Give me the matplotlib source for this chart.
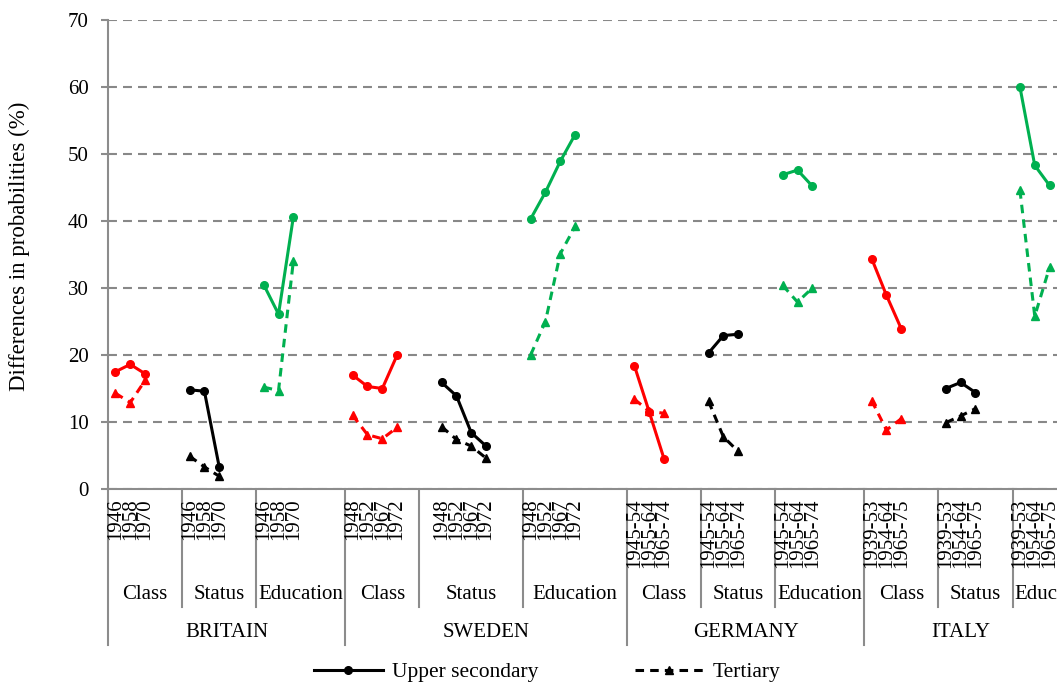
import matplotlib.pyplot as plt
from matplotlib.lines import Line2D

plt.rcParams['font.family'] = ['Liberation Serif', 'DejaVu Serif']

# categories
countries = ['BRITAIN', 'SWEDEN', 'GERMANY', 'ITALY']
dimensions = ['Class', 'Status', 'Education']
britain_years = ['1946', '1958', '1970']
sweden_years = ['1948', '1952', '1967', '1972']
germany_years = ['1945-54', '1955-64', '1965-74']
italy_years = ['1939-53', '1954-64', '1965-75']

# differences in probabilities (%), upper secondary
britain_upper = {'Class': [17.5, 18.6, 17.2], 'Status': [14.8, 14.6, 3.3], 'Education': [30.5, 26.1, 40.6]}
sweden_upper = {'Class': [17.0, 15.3, 15.0, 20.0], 'Status': [15.9, 13.9, 8.4, 6.4],
                'Education': [40.3, 44.3, 48.9, 52.9]}
germany_upper = {'Class': [18.4, 11.5, 4.5], 'Status': [20.3, 22.9, 23.1], 'Education': [46.9, 47.6, 45.2]}
italy_upper = {'Class': [34.4, 28.9, 23.9], 'Status': [15.0, 15.9, 14.4], 'Education': [60.0, 48.3, 45.3]}

# differences in probabilities (%), tertiary
britain_tert = {'Class': [14.3, 12.9, 16.2], 'Status': [4.9, 3.3, 1.9], 'Education': [15.2, 14.7, 34.0]}
sweden_tert = {'Class': [11.0, 8.1, 7.5, 9.2], 'Status': [9.3, 7.4, 6.4, 4.6],
               'Education': [20.0, 25.0, 35.1, 39.2]}
germany_tert = {'Class': [13.4, 11.6, 11.3], 'Status': [13.1, 7.8, 5.6], 'Education': [30.4, 27.9, 30.0]}
italy_tert = {'Class': [13.2, 8.8, 10.5], 'Status': [9.9, 10.9, 12.0], 'Education': [44.6, 25.8, 33.1]}

years = dict(zip(countries, [britain_years, sweden_years, germany_years, italy_years]))
upper = dict(zip(countries, [britain_upper, sweden_upper, germany_upper, italy_upper]))
tert = dict(zip(countries, [britain_tert, sweden_tert, germany_tert, italy_tert]))

# slots on the category axis per dimension (incl. empty spacer slots) and leading blanks
slots = {'BRITAIN': [5, 5, 6], 'SWEDEN': [5, 7, 7], 'GERMANY': [5, 5, 6], 'ITALY': [5, 5, 3]}
lead = {'SWEDEN': [0, 1, 0]}

colors = {'Class': '#FF0000', 'Status': '#000000', 'Education': '#00B050'}
axis_grey = '#8C8C8C'
fs = 15

fig = plt.figure(figsize=(10.57, 6.86), dpi=100)
ax = fig.add_axes([108 / 1057, 197 / 686, 949 / 1057, 469 / 686])

trans = ax.get_xaxis_transform()
sep_kw = dict(color=axis_grey, lw=1.5, transform=trans, clip_on=False)

pos = 0
for country in countries:
    c_start = pos
    for j, dim in enumerate(dimensions):
        n = slots[country][j]
        off = lead.get(country, [0, 0, 0])[j]
        yrs = years[country]
        x = [pos + off + i for i in range(len(yrs))]
        col = colors[dim]
        ax.plot(x, upper[country][dim], color=col, lw=2.2, marker='o', ms=5.5, zorder=3)
        ax.plot(x, tert[country][dim], color=col, lw=2.2, ls=(0, (2.8, 2.0)),
                marker='^', ms=6, zorder=3)
        for xi, lab in zip(x, yrs):
            ax.text(xi, -0.021, lab, rotation=90, ha='center', va='top',
                    fontsize=fs, transform=trans, linespacing=1.0)
        if j > 0:
            ax.plot([pos - 0.5, pos - 0.5], [0, -0.252], **sep_kw)
        last = (country == countries[-1] and j == len(dimensions) - 1)
        if last:
            ax.text(pos - 0.35, -0.226, dim, ha='left', va='center', fontsize=fs, transform=trans)
        else:
            ax.text(pos + n / 2 - 0.5, -0.226, dim, ha='center', va='center',
                    fontsize=fs, transform=trans)
        pos += n
    if c_start > 0:
        ax.plot([c_start - 0.5, c_start - 0.5], [0, -0.333], **sep_kw)
    ax.text((c_start + pos) / 2 - 0.5, -0.305, country, ha='center', va='center',
            fontsize=fs, transform=trans)

ax.set_xlim(-0.5, pos - 0.5)
ax.set_ylim(0, 70)
ax.set_yticks(range(0, 71, 10))
ax.set_xticks([])
ax.yaxis.grid(True, color='#888888', lw=1.5, ls=(0, (4.3, 2.9)))
ax.set_axisbelow(True)
for side in ['top', 'right']:
    ax.spines[side].set_visible(False)
ax.spines['left'].set_color(axis_grey)
ax.spines['bottom'].set_color(axis_grey)
ax.spines['left'].set_linewidth(1.5)
ax.spines['bottom'].set_linewidth(1.5)
ax.spines['left'].set_bounds(0, 70)
# left axis line continues down through the category levels
ax.plot([-0.5, -0.5], [0, -0.333], **sep_kw)
ax.tick_params(axis='y', length=5, width=1.5, color=axis_grey, labelsize=fs, pad=9)

fig.text(19 / 1057, 1 - 246 / 686, 'Differences in probabilities (%)', rotation=90,
         ha='center', va='center', fontsize=16.5)

handles = [Line2D([], [], color='black', lw=2.2, marker='o', ms=5.5),
           Line2D([], [], color='black', lw=2.2, ls=(0, (2.8, 2.0)), marker='^', ms=6)]
fig.legend(handles, ['Upper secondary', 'Tertiary'], loc='center',
           bbox_to_anchor=(547 / 1057, 1 - 672 / 686), ncol=2, frameon=False,
           handlelength=3.2, handletextpad=0.4, columnspacing=4.5, fontsize=fs + 0.5)

fig.savefig('out.png', dpi=100)
